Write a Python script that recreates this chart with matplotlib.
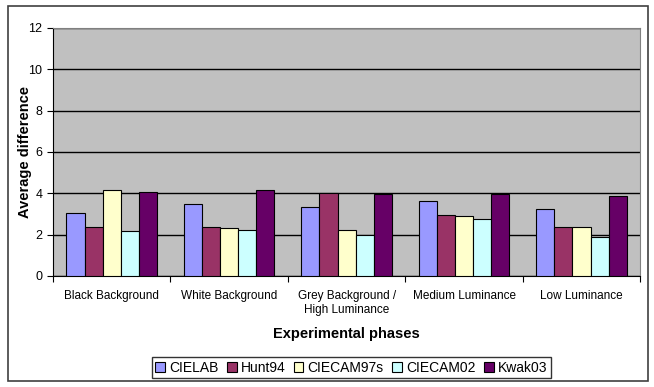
import matplotlib
matplotlib.use('Agg')

import matplotlib.pyplot as plt
import numpy as np
from matplotlib.patches import Rectangle

phases = ["Black Background", "White Background", "Grey Background /\nHigh Luminance",
          "Medium Luminance", "Low Luminance"]
models = ["CIELAB", "Hunt94", "CIECAM97s", "CIECAM02", "Kwak03"]
cielab = [3.06, 3.47, 3.32, 3.64, 3.23]
hunt94 = [2.37, 2.39, 4.00, 2.97, 2.39]
ciecam97s = [4.16, 2.34, 2.23, 2.90, 2.36]
ciecam02 = [2.16, 2.23, 1.97, 2.76, 1.90]
kwak03 = [4.08, 4.16, 3.97, 3.98, 3.89]
colors = ["#9999FF", "#993366", "#FFFFCC", "#CCFFFF", "#660066"]

plt.rcParams['font.family'] = ['Liberation Sans', 'DejaVu Sans']

fig = plt.figure(figsize=(6.54, 3.87), dpi=100)
ax = fig.add_axes([0.081, 0.287, 0.898, 0.641])

# outer chart frame
fig.patches.append(Rectangle((0.012, 0.015), 0.979, 0.97, transform=fig.transFigure,
                             fill=False, edgecolor='#404040', linewidth=1.2))

x = np.arange(len(phases))
w = 0.154
series = [cielab, hunt94, ciecam97s, ciecam02, kwak03]
for i, (vals, c, name) in enumerate(zip(series, colors, models)):
    ax.bar(x + (i - 2) * w, vals, w, color=c, edgecolor='black', linewidth=0.8,
           label=name, zorder=3)

ax.set_facecolor('#C0C0C0')
ax.set_xlim(-0.5, len(phases) - 0.5)
ax.set_ylim(0, 12)
ax.set_yticks(range(0, 13, 2))
ax.yaxis.grid(True, color='black', linewidth=1)
ax.set_axisbelow(True)

ax.set_xticks(np.arange(-0.5, len(phases), 1.0))
ax.set_xticklabels([])
ax.set_xticks(x, minor=True)
ax.set_xticklabels(phases, minor=True, fontsize=8.5)
ax.tick_params(axis='x', which='minor', length=0, pad=10)
ax.tick_params(axis='x', which='major', direction='out', length=4)
ax.tick_params(axis='y', labelsize=9, length=4)

for s in ['top', 'right']:
    ax.spines[s].set_color('#808080')
ax.spines['left'].set_color('black')
ax.spines['bottom'].set_color('black')

ax.set_ylabel("Average difference", fontsize=10.5, fontweight='bold')
ax.yaxis.set_label_coords(-0.036, 0.5)
ax.set_xlabel("Experimental phases", fontsize=10.5, fontweight='bold', labelpad=8)

leg = fig.legend(loc='center', bbox_to_anchor=(0.537, 0.05), ncol=5, fontsize=10,
                 frameon=True, fancybox=False, edgecolor='black', handlelength=0.7,
                 handleheight=0.7, handletextpad=0.3, columnspacing=0.6, borderpad=0.25)
leg.get_frame().set_linewidth(1.0)

fig.savefig('out.png', dpi=100)
